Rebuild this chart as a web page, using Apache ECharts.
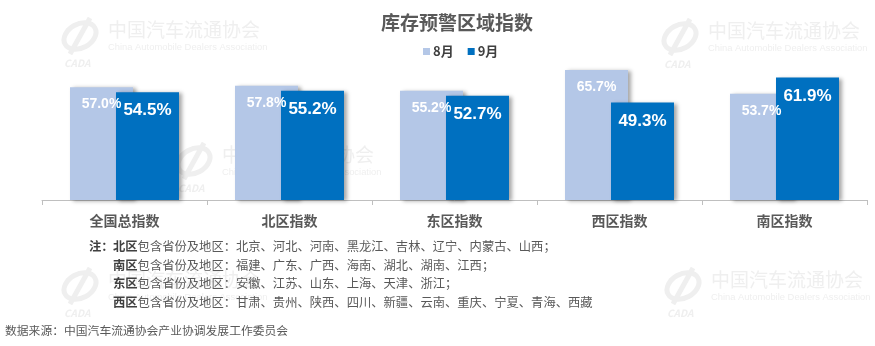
<!DOCTYPE html>
<html>
<head>
<meta charset="utf-8">
<script src="https://cdn.jsdelivr.net/npm/echarts@6/dist/echarts.min.js"></script>
<style>
  html, body { margin: 0; padding: 0; background: #fff; }
  #chart { width: 875px; height: 346px; }
</style>
</head>
<body>
<div id="chart"></div>
<script>
// Regional inventory warning index, August vs September
const categories = ['全国总指数', '北区指数', '东区指数', '西区指数', '南区指数'];
const augValues = [57.0, 57.8, 55.2, 65.7, 53.7];
const sepValues = [54.5, 55.2, 52.7, 49.3, 61.9];
const seriesNames = ['8月', '9月'];

const noteLines = [
  ['北区', '包含省份及地区：北京、河北、河南、黑龙江、吉林、辽宁、内蒙古、山西；'],
  ['南区', '包含省份及地区：福建、广东、广西、海南、湖北、湖南、江西；'],
  ['东区', '包含省份及地区：安徽、江苏、山东、上海、天津、浙江；'],
  ['西区', '包含省份及地区：甘肃、贵州、陕西、四川、新疆、云南、重庆、宁夏、青海、西藏']
];
const sourceText = '数据来源：中国汽车流通协会产业协调发展工作委员会';

const FONT = '"Noto Sans CJK SC", "Noto Sans", sans-serif';
const NUM_FONT = '"Liberation Sans", Arial, sans-serif';

// Faint association watermark (logo mark + name)
function watermark(x, y) {
  const c = '#efefef';
  return {
    type: 'group', x: x, y: y, silent: true, z: -10,
    children: [
      { type: 'ellipse', shape: { cx: 20, cy: 18, rx: 17, ry: 12 },
        rotation: 0.5, originX: 20, originY: 18,
        style: { fill: 'none', stroke: c, lineWidth: 5 } },
      { type: 'line', shape: { x1: 10, y1: 36, x2: 30, y2: 0 },
        style: { stroke: c, lineWidth: 5 } },
      { type: 'text', x: 4, y: 40,
        style: { text: 'CADA', font: 'italic bold 10px ' + FONT, fill: c } },
      { type: 'text', x: 48, y: 2,
        style: { text: '中国汽车流通协会', font: '19px ' + FONT, fill: c } },
      { type: 'text', x: 48, y: 25,
        style: { text: 'China Automobile Dealers Association', font: '9.4px "Liberation Sans", sans-serif', fill: c } }
    ]
  };
}

const graphics = [
  watermark(60, 18),
  watermark(660, 19),
  watermark(174, 143),
  watermark(60, 268),
  watermark(663, 268)
];

noteLines.forEach(function (ln, i) {
  graphics.push({
    type: 'text', left: 113, top: 240 + i * 18.8, z: 10,
    style: {
      text: '{b|' + ln[0] + '}{n|' + ln[1] + '}',
      rich: {
        b: { font: 'bold 12.3px ' + FONT, fill: '#404040' },
        n: { font: '12.3px ' + FONT, fill: '#595959' }
      }
    }
  });
});
graphics.push({
  type: 'text', left: 89, top: 240, z: 10,
  style: { text: '注：', font: 'bold 12.3px ' + FONT, fill: '#404040' }
});
graphics.push({
  type: 'text', left: 5, top: 325, z: 10,
  style: { text: sourceText, font: '11.8px ' + FONT, fill: '#595959' }
});

const shadow = {
  shadowColor: 'rgba(0,0,0,0.35)',
  shadowBlur: 4,
  shadowOffsetX: 3,
  shadowOffsetY: 1
};

const chart = echarts.init(document.getElementById('chart'), null, { renderer: 'canvas' });
chart.setOption({
  animation: false,
  backgroundColor: '#ffffff',
  title: {
    text: '库存预警区域指数',
    left: 376, top: 8,
    textStyle: { fontFamily: FONT, fontSize: 19, fontWeight: 'bold', color: '#595959' }
  },
  legend: {
    data: seriesNames,
    left: 418, top: 40,
    icon: 'rect', itemWidth: 7, itemHeight: 7, itemGap: 14,
    textStyle: { fontFamily: FONT, fontSize: 13, fontWeight: 'bold', color: '#404040', padding: [0, 0, 0, -2] }
  },
  grid: { left: 42, right: 8, top: 61.6, bottom: 146, containLabel: false },
  xAxis: {
    type: 'category',
    data: categories,
    axisLine: { lineStyle: { color: '#bfbfbf', width: 1 } },
    axisTick: { show: true, length: 5, lineStyle: { color: '#bfbfbf' } },
    axisLabel: { margin: 14, fontFamily: FONT, fontSize: 14, fontWeight: 'bold', color: '#595959' }
  },
  yAxis: {
    type: 'value', min: 0, max: 70, show: false,
    splitLine: { show: false }
  },
  graphic: graphics,
  series: [
    {
      name: seriesNames[0], type: 'bar', data: augValues,
      barWidth: 63, barGap: '-27%',
      itemStyle: Object.assign({ color: '#b4c7e7' }, shadow),
      label: {
        show: true, position: 'insideTop', distance: 10,
        formatter: function (p) { return p.value.toFixed(1) + '%'; },
        fontFamily: NUM_FONT, fontSize: 14, fontWeight: 'bold', color: '#ffffff'
      }
    },
    {
      name: seriesNames[1], type: 'bar', data: sepValues,
      barWidth: 63,
      itemStyle: Object.assign({ color: '#0070c0' }, shadow),
      label: {
        show: true, position: 'insideTop', distance: 10,
        formatter: function (p) { return p.value.toFixed(1) + '%'; },
        fontFamily: NUM_FONT, fontSize: 17, fontWeight: 'bold', color: '#ffffff'
      }
    }
  ]
});
</script>
</body>
</html>
